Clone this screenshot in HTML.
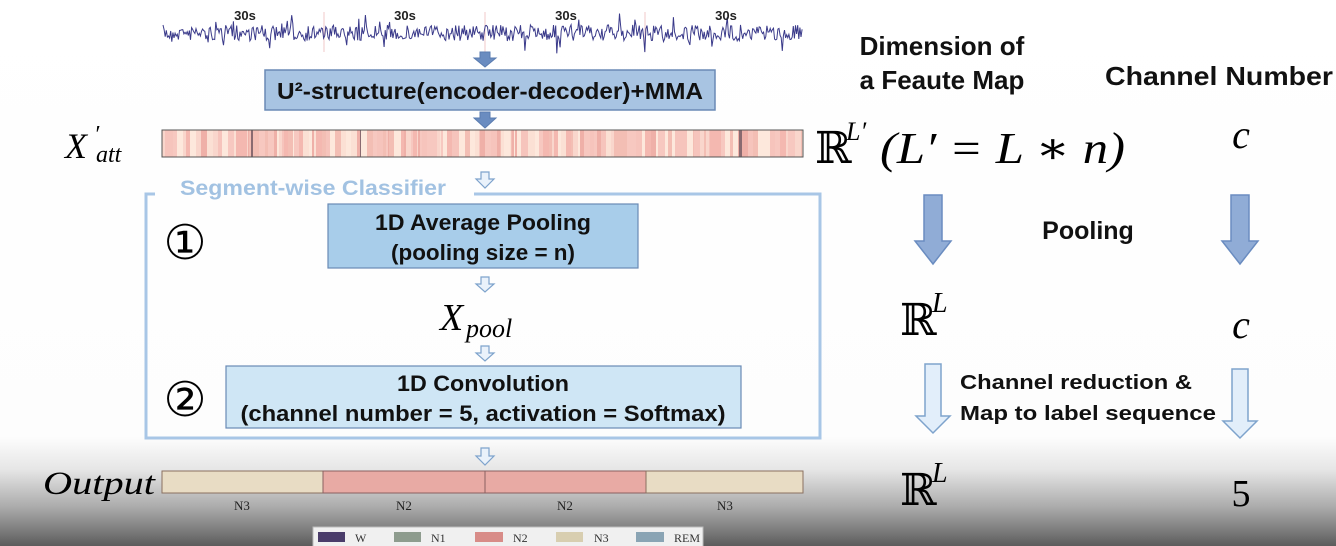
<!DOCTYPE html>
<html><head><meta charset="utf-8"><style>
html,body{margin:0;padding:0;width:1336px;height:546px;overflow:hidden;background:#fff}
svg{display:block}
.b{font-family:"Liberation Sans",sans-serif;font-weight:bold}
.m{font-family:"Liberation Serif","DejaVu Serif",serif;font-style:italic}
.r{font-family:"Liberation Serif","DejaVu Serif",serif}
</style></head><body>
<svg id="s" width="1336" height="546" viewBox="0 0 1336 546" xmlns="http://www.w3.org/2000/svg">
<defs>
<linearGradient id="bg" x1="0" y1="0" x2="0" y2="1">
<stop offset="0" stop-color="#fff"/><stop offset="0.80" stop-color="#fdfdfd"/>
<stop offset="0.86" stop-color="#e6e6e6"/><stop offset="0.93" stop-color="#aaaaaa"/><stop offset="1" stop-color="#5c5c5c"/>
</linearGradient>
</defs>
<rect width="1336" height="546" fill="url(#bg)"/>
<g stroke="#f0c8c8" stroke-width="1"><line x1="324" y1="12" x2="324" y2="52"/><line x1="485" y1="12" x2="485" y2="52"/><line x1="645" y1="12" x2="645" y2="52"/></g>
<polyline id="wave" fill="none" stroke="#3a3a8a" stroke-width="1" points=""/>
<g class="b" font-size="13" fill="#222" text-anchor="middle"><text x="245" y="20">30s</text><text x="405" y="20">30s</text><text x="566" y="20">30s</text><text x="726" y="20">30s</text></g>
<g fill="#6a8cc0" stroke="#5a7cb0">
<polygon points="480,52 490,52 490,58 496,58 485,67 474,58 480,58"/>
<polygon points="480,112 490,112 490,118 496,118 485,128 474,118 480,118"/>
</g>
<rect x="265" y="70" width="450" height="40" fill="#a8c4e2" stroke="#6a8ab5" stroke-width="1.5"/>
<text class="b" x="490" y="99" font-size="23" text-anchor="middle" fill="#111" textLength="426" lengthAdjust="spacingAndGlyphs">U²-structure(encoder-decoder)+MMA</text>
<g id="stripes"></g>
<rect x="162" y="130" width="641" height="27" fill="none" stroke="#555" stroke-width="1"/>
<text class="m" x="65" y="158" font-size="36">X</text><text class="m" x="94" y="142" font-size="24">′</text><text class="m" x="96" y="162" font-size="24">att</text>
<g fill="#eaf2fb" stroke="#7ea3cc" stroke-width="1.2">
<polygon points="481,172 489,172 489,179 494,179 485,188 476,179 481,179"/>
<polygon points="481,277 489,277 489,284 494,284 485,292 476,284 481,284"/>
<polygon points="481,346 489,346 489,353 494,353 485,361 476,353 481,353"/>
<polygon points="481,448 489,448 489,456 494,456 485,465 476,456 481,456"/>
</g>
<polyline points="474,194 820,194 820,438 146,438 146,194 155,194" fill="none" stroke="#a8c6e6" stroke-width="3"/>
<text class="b" x="180" y="195" font-size="21" fill="#a2c2e2" textLength="266" lengthAdjust="spacingAndGlyphs">Segment-wise Classifier</text>
<rect x="328" y="204" width="310" height="64" fill="#a8cdea" stroke="#6a8ab5" stroke-width="1.2"/>
<text class="b" x="483" y="230" font-size="22" text-anchor="middle" fill="#111" textLength="216" lengthAdjust="spacingAndGlyphs">1D Average Pooling</text>
<text class="b" x="483" y="260" font-size="22" text-anchor="middle" fill="#111" textLength="184" lengthAdjust="spacingAndGlyphs">(pooling size = n)</text>
<text class="r" x="185" y="259" font-size="48" text-anchor="middle" fill="#000">①</text>
<text class="m" x="440" y="330" font-size="38">X</text><text class="m" x="466" y="337" font-size="26">pool</text>
<rect x="226" y="366" width="515" height="62" fill="#cfe6f5" stroke="#6a8ab5" stroke-width="1.2"/>
<text class="b" x="483" y="391" font-size="22" text-anchor="middle" fill="#111" textLength="172" lengthAdjust="spacingAndGlyphs">1D Convolution</text>
<text class="b" x="483" y="421" font-size="22" text-anchor="middle" fill="#111" textLength="485" lengthAdjust="spacingAndGlyphs">(channel number = 5, activation = Softmax)</text>
<text class="r" x="185" y="416" font-size="48" text-anchor="middle" fill="#000">②</text>
<rect x="162" y="471" width="161" height="22" fill="#e8dcc4" stroke="#8a7060"/>
<rect x="323" y="471" width="162" height="22" fill="#e8aaa4" stroke="#8a6060"/>
<rect x="485" y="471" width="161" height="22" fill="#e8aaa4" stroke="#8a6060"/>
<rect x="646" y="471" width="157" height="22" fill="#e8dcc4" stroke="#8a7060"/>
<g class="r" font-size="13" text-anchor="middle" fill="#222"><text x="242" y="510">N3</text><text x="404" y="510">N2</text><text x="565" y="510">N2</text><text x="725" y="510">N3</text></g>
<text class="m" x="43" y="494" font-size="33" textLength="112" lengthAdjust="spacingAndGlyphs">Output</text>
<rect x="313" y="527" width="390" height="22" fill="#f0f0f0" stroke="#bbb"/>
<g class="r" font-size="12" fill="#333">
<rect x="318" y="532" width="27" height="10" fill="#4a3c6a"/><text x="355" y="542">W</text>
<rect x="394" y="532" width="27" height="10" fill="#8e9c8e"/><text x="431" y="542">N1</text>
<rect x="475" y="532" width="28" height="10" fill="#d88c88"/><text x="513" y="542">N2</text>
<rect x="556" y="532" width="27" height="10" fill="#d8ceb0"/><text x="594" y="542">N3</text>
<rect x="636" y="532" width="28" height="10" fill="#8aa4b4"/><text x="674" y="542">REM</text>
</g>
<g class="b" fill="#111" text-anchor="middle">
<text x="942" y="55" font-size="26">Dimension of</text><text x="942" y="89" font-size="26">a Feaute Map</text>
<text x="1219" y="85" font-size="26" textLength="228" lengthAdjust="spacingAndGlyphs">Channel Number</text>
<text x="1088" y="239" font-size="25">Pooling</text>
</g>
<g class="b" font-size="20" fill="#111"><text x="960" y="389" textLength="232" lengthAdjust="spacingAndGlyphs">Channel reduction &amp;</text><text x="960" y="420" textLength="256" lengthAdjust="spacingAndGlyphs">Map to label sequence</text></g>
<text class="r" x="815" y="163" font-size="44">ℝ</text>
<text class="m" x="846" y="140" font-size="26">L′</text>
<text class="m" x="880" y="163" font-size="44" textLength="245" lengthAdjust="spacingAndGlyphs">(L′ = L ∗ n)</text>
<text class="m" x="1241" y="148" font-size="40" text-anchor="middle">c</text>
<text class="r" x="900" y="335" font-size="44">ℝ</text><text class="m" x="932" y="312" font-size="28">L</text>
<text class="m" x="1241" y="338" font-size="40" text-anchor="middle">c</text>
<text class="r" x="900" y="505" font-size="44">ℝ</text><text class="m" x="932" y="482" font-size="28">L</text>
<text class="r" x="1241" y="506" font-size="38" text-anchor="middle">5</text>
<g fill="#90acd6" stroke="#6a8cc0" stroke-width="1.5">
<polygon points="924,195 942,195 942,241 951,241 933,264 915,241 924,241"/>
<polygon points="1231,195 1249,195 1249,241 1258,241 1240,264 1222,241 1231,241"/>
</g>
<g fill="#e2eefa" stroke="#7ea3cc" stroke-width="1.5">
<polygon points="925,364 941,364 941,416 950,416 933,433 916,416 925,416"/>
<polygon points="1232,369 1248,369 1248,421 1257,421 1240,438 1223,421 1232,421"/>
</g>
</svg>
<script>
(function(){
var seed=7;function r(){seed=(seed*16807)%2147483647;return seed/2147483647;}
var p=[];for(var x=163;x<=803;x+=1.1){var y=33+(r()-0.5)*16+(r()<0.1?(r()-0.5)*30:0);p.push(x.toFixed(1)+","+y.toFixed(1));}
document.getElementById("wave").setAttribute("points",p.join(" "));
var g=document.getElementById("stripes"),ns="http://www.w3.org/2000/svg",cols=["#f4b8b0","#f7c8c0","#fbe0d4","#efb0a8","#f9d6cc","#f3beb4","#fde8dc","#f6c4bc"];
for(var x=162;x<803;){var w=1+Math.floor(r()*6);var e=document.createElementNS(ns,"rect");e.setAttribute("x",x);e.setAttribute("y",130);e.setAttribute("width",Math.min(w,803-x));e.setAttribute("height",27);e.setAttribute("fill",r()<0.015?"#8a6a70":cols[Math.floor(r()*cols.length)]);g.appendChild(e);x+=w;}
})();
</script>
</body></html>
